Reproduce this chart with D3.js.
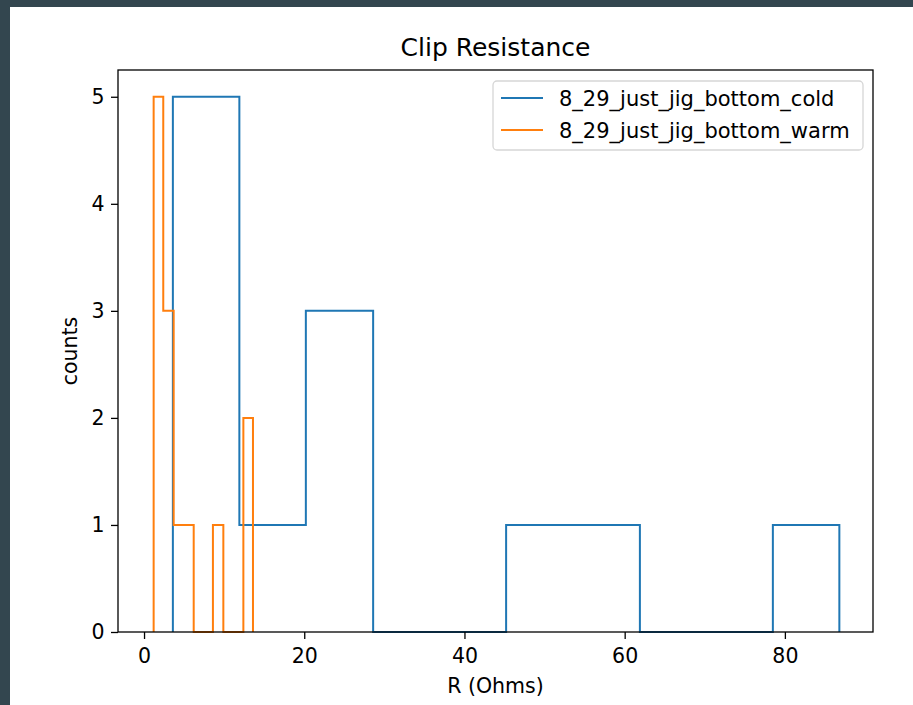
<!DOCTYPE html>
<html>
<head>
<meta charset="utf-8">
<script src="https://cdn.jsdelivr.net/npm/d3@7"></script>
<style>
  html, body { margin: 0; padding: 0; background: #33464f; }
  svg { display: block; }
</style>
</head>
<body>
<svg id="chart" width="913" height="705"></svg>
<script>
// bin edges and counts
const coldEdges = [3.6, 11.9, 20.2, 28.6, 36.9, 45.2, 53.5, 61.9, 70.2, 78.5, 86.8];
const coldCounts = [5, 1, 3, 0, 0, 1, 1, 0, 0, 1];
const warmEdges = [1.2, 2.4, 3.7, 4.9, 6.2, 7.4, 8.6, 9.9, 11.1, 12.4, 13.6];
const warmCounts = [5, 3, 1, 1, 0, 0, 1, 0, 0, 2];

const seriesNames = ["8_29_just_jig_bottom_cold", "8_29_just_jig_bottom_warm"];
const seriesColors = ["#1f77b4", "#ff7f0e"];
const xTicks = [0, 20, 40, 60, 80];
const yTicks = [0, 1, 2, 3, 4, 5];

const svg = d3.select("#chart");
const font = "DejaVu Sans, sans-serif";

// white figure area (dark strip on top and left like the screenshot)
svg.append("rect")
    .attr("x", 10)
    .attr("y", 7)
    .attr("width", 903)
    .attr("height", 698)
    .attr("fill", "#ffffff");

const plot = { left: 118, right: 873, top: 70, bottom: 632 };

const x = d3.scaleLinear().domain([-3.25, 91.0]).range([plot.left, plot.right]);
const y = d3.scaleLinear().domain([0, 5.25]).range([plot.bottom, plot.top]);

// step outline, like matplotlib histtype="step"
function stepPoints(edges, counts) {
    const pts = [[edges[0], 0]];
    counts.forEach((c, i) => {
        pts.push([edges[i], c]);
        pts.push([edges[i + 1], c]);
    });
    pts.push([edges[edges.length - 1], 0]);
    return pts;
}

const line = d3.line()
    .x((d) => x(d[0]))
    .y((d) => y(d[1]));

const hists = [
    { edges: coldEdges, counts: coldCounts },
    { edges: warmEdges, counts: warmCounts },
];

svg.append("g")
    .selectAll("path")
    .data(hists)
    .join("path")
    .attr("d", (d) => line(stepPoints(d.edges, d.counts)))
    .attr("fill", "none")
    .attr("stroke", (d, i) => seriesColors[i])
    .attr("stroke-width", 2)
    .attr("stroke-linejoin", "miter");

// axes
const xAxis = svg.append("g")
    .attr("transform", `translate(0,${plot.bottom})`)
    .call(d3.axisBottom(x).tickValues(xTicks).tickSize(7).tickPadding(9).tickFormat(d3.format("d")));

const yAxis = svg.append("g")
    .attr("transform", `translate(${plot.left},0)`)
    .call(d3.axisLeft(y).tickValues(yTicks).tickSize(7).tickPadding(6.5).tickFormat(d3.format("d")));

[xAxis, yAxis].forEach((ax) => {
    ax.select(".domain").remove();
    ax.selectAll("line").attr("stroke", "#000").attr("stroke-width", 1.3);
    ax.selectAll("text")
        .attr("fill", "#000")
        .style("font-family", font)
        .style("font-size", "20.5px");
});

// frame
svg.append("rect")
    .attr("x", plot.left)
    .attr("y", plot.top)
    .attr("width", plot.right - plot.left)
    .attr("height", plot.bottom - plot.top)
    .attr("fill", "none")
    .attr("stroke", "#000")
    .attr("stroke-width", 1.3);

// title and axis labels
svg.append("text")
    .attr("x", (plot.left + plot.right) / 2)
    .attr("y", 56)
    .attr("text-anchor", "middle")
    .style("font-family", font)
    .style("font-size", "25px")
    .text("Clip Resistance");

svg.append("text")
    .attr("x", (plot.left + plot.right) / 2)
    .attr("y", 693)
    .attr("text-anchor", "middle")
    .style("font-family", font)
    .style("font-size", "20.5px")
    .text("R (Ohms)");

svg.append("text")
    .attr("transform", `translate(77,${(plot.top + plot.bottom) / 2}) rotate(-90)`)
    .attr("text-anchor", "middle")
    .style("font-family", font)
    .style("font-size", "20.5px")
    .text("counts");

// legend
const legend = svg.append("g").attr("transform", "translate(493,81)");

legend.append("rect")
    .attr("width", 370)
    .attr("height", 69)
    .attr("rx", 4)
    .attr("fill", "#ffffff")
    .attr("fill-opacity", 0.8)
    .attr("stroke", "#d6d6d6")
    .attr("stroke-width", 1.3);

const items = legend.selectAll("g.item")
    .data(seriesNames)
    .join("g")
    .attr("class", "item")
    .attr("transform", (d, i) => `translate(0,${17 + i * 32})`);

items.append("line")
    .attr("x1", 8)
    .attr("x2", 50)
    .attr("stroke", (d, i) => seriesColors[i])
    .attr("stroke-width", 2);

items.append("text")
    .attr("x", 66)
    .attr("dy", "0.36em")
    .style("font-family", font)
    .style("font-size", "21px")
    .text((d) => d);
</script>
</body>
</html>
